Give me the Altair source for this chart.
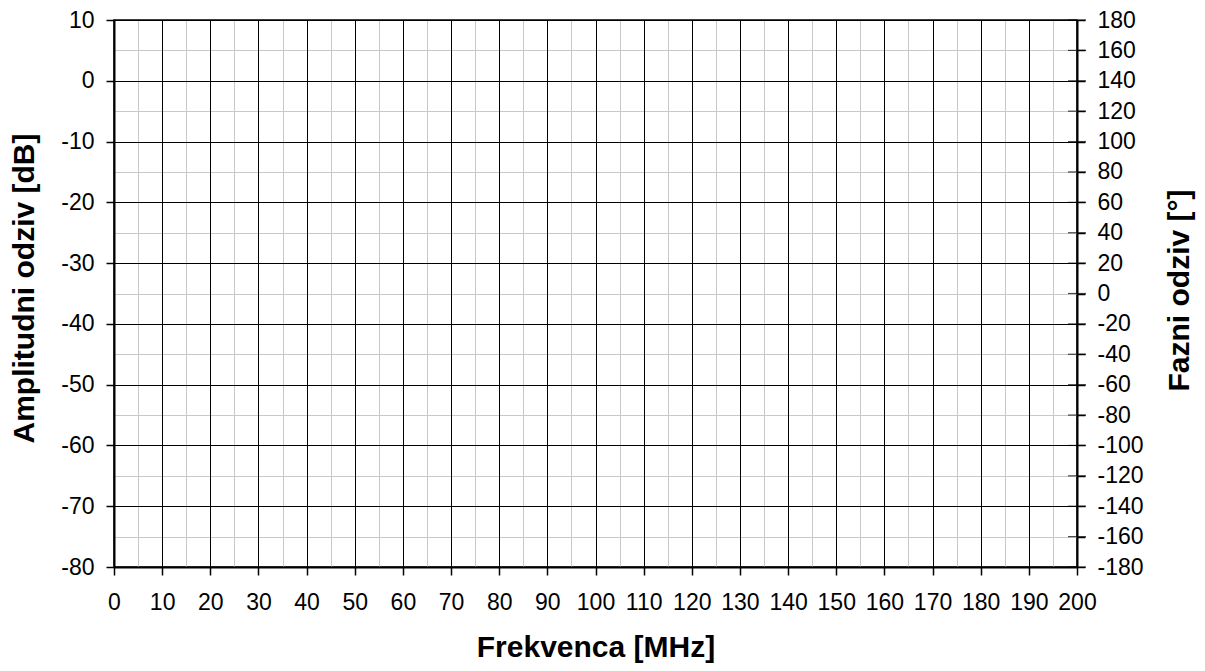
import altair as alt
import pandas as pd

# Axis ranges and tick values
freq_domain = [0, 200]
amp_domain = [-80, 10]
phase_domain = [-180, 180]

freq_major = list(range(0, 201, 10))
freq_minor = list(range(5, 200, 10))
amp_major = list(range(-80, 11, 10))
amp_minor = list(range(-75, 10, 10))
phase_ticks = list(range(-180, 181, 20))

FONT = "Liberation Sans"
W, H = 963, 547
PLAIN = "'' + datum.value"
LS = 23

frame = pd.DataFrame({"freq": freq_domain, "amp": amp_domain})
phase_df = pd.DataFrame({"phase": phase_ticks})

x_scale = alt.Scale(domain=freq_domain, nice=False, zero=False)
amp_scale = alt.Scale(domain=amp_domain, nice=False, zero=False)
phase_scale = alt.Scale(domain=phase_domain, nice=False, zero=False)

minor = alt.Chart(frame).mark_point(opacity=0).encode(
    x=alt.X("freq:Q", scale=x_scale, axis=alt.Axis(
        orient="bottom", values=freq_minor, grid=True, gridColor="#c8c8c8",
        gridWidth=1, labels=False, ticks=False, domain=False, title=None,
        zindex=0)),
    y=alt.Y("amp:Q", scale=amp_scale, axis=alt.Axis(
        orient="left", values=amp_minor, grid=True, gridColor="#c8c8c8",
        gridWidth=1, labels=False, ticks=False, domain=False, title=None,
        zindex=0)),
)

major = alt.Chart(frame).mark_point(opacity=0).encode(
    x=alt.X("freq:Q", scale=x_scale, axis=alt.Axis(
        orient="bottom", values=freq_major, grid=True, gridColor="#000000",
        gridWidth=1, ticks=True, tickSize=8, tickColor="#000000", tickWidth=1.5,
        domain=True, domainColor="#000000", domainWidth=2,
        labels=True, labelFont=FONT, labelFontSize=LS, labelColor="#000000",
        labelPadding=16, labelFlush=False, labelOverlap=False, labelExpr=PLAIN,
        title="Frekvenca [MHz]", titleFont=FONT, titleFontSize=30,
        titleFontWeight="bold", titleColor="#000000",
        titleX=W / 2, titleY=89, titleAlign="center",
        titleBaseline="alphabetic", zindex=1)),
    y=alt.Y("amp:Q", scale=amp_scale, axis=alt.Axis(
        orient="left", values=amp_major, grid=True, gridColor="#000000",
        gridWidth=1, ticks=True, tickSize=8, tickColor="#000000", tickWidth=1.5,
        domain=True, domainColor="#000000", domainWidth=2,
        labels=True, labelFont=FONT, labelFontSize=LS, labelColor="#000000",
        labelPadding=12, labelOverlap=False, labelExpr=PLAIN,
        title="Amplitudni odziv [dB]", titleFont=FONT, titleFontSize=30,
        titleFontWeight="bold", titleColor="#000000",
        titleAngle=270, titleX=-81, titleY=268, titleAlign="center",
        titleBaseline="alphabetic", zindex=1)),
)

phase = alt.Chart(phase_df).mark_tick(
    orient="horizontal", size=18, thickness=1.2, color="#000000"
).encode(
    x=alt.XDatum(freq_domain[1], scale=x_scale, axis=None),
    y=alt.Y("phase:Q", scale=phase_scale, axis=alt.Axis(
        orient="right", values=phase_ticks, grid=False,
        ticks=True, tickSize=8, tickColor="#000000", tickWidth=1.5,
        domain=True, domainColor="#000000", domainWidth=2,
        labels=True, labelFont=FONT, labelFontSize=LS, labelColor="#000000",
        labelPadding=12, labelOverlap=False, labelExpr=PLAIN,
        title="Fazni odziv [°]", titleFont=FONT, titleFontSize=30,
        titleFontWeight="bold", titleColor="#000000",
        titleAngle=270, titleX=111, titleY=270, titleAlign="center",
        titleBaseline="alphabetic", zindex=1)),
)

chart = alt.layer(minor, major, phase).resolve_scale(
    y="independent"
).resolve_axis(
    x="independent", y="independent"
).properties(
    width=W, height=H,
    autosize=alt.AutoSizeParams(type="none"),
    padding={"left": 106, "top": 12, "right": 120, "bottom": 96},
    background="#ffffff",
).configure_view(
    stroke="#000000", strokeWidth=1.5
)

chart.save("out.html", embed_options={"renderer": "svg", "actions": False})
